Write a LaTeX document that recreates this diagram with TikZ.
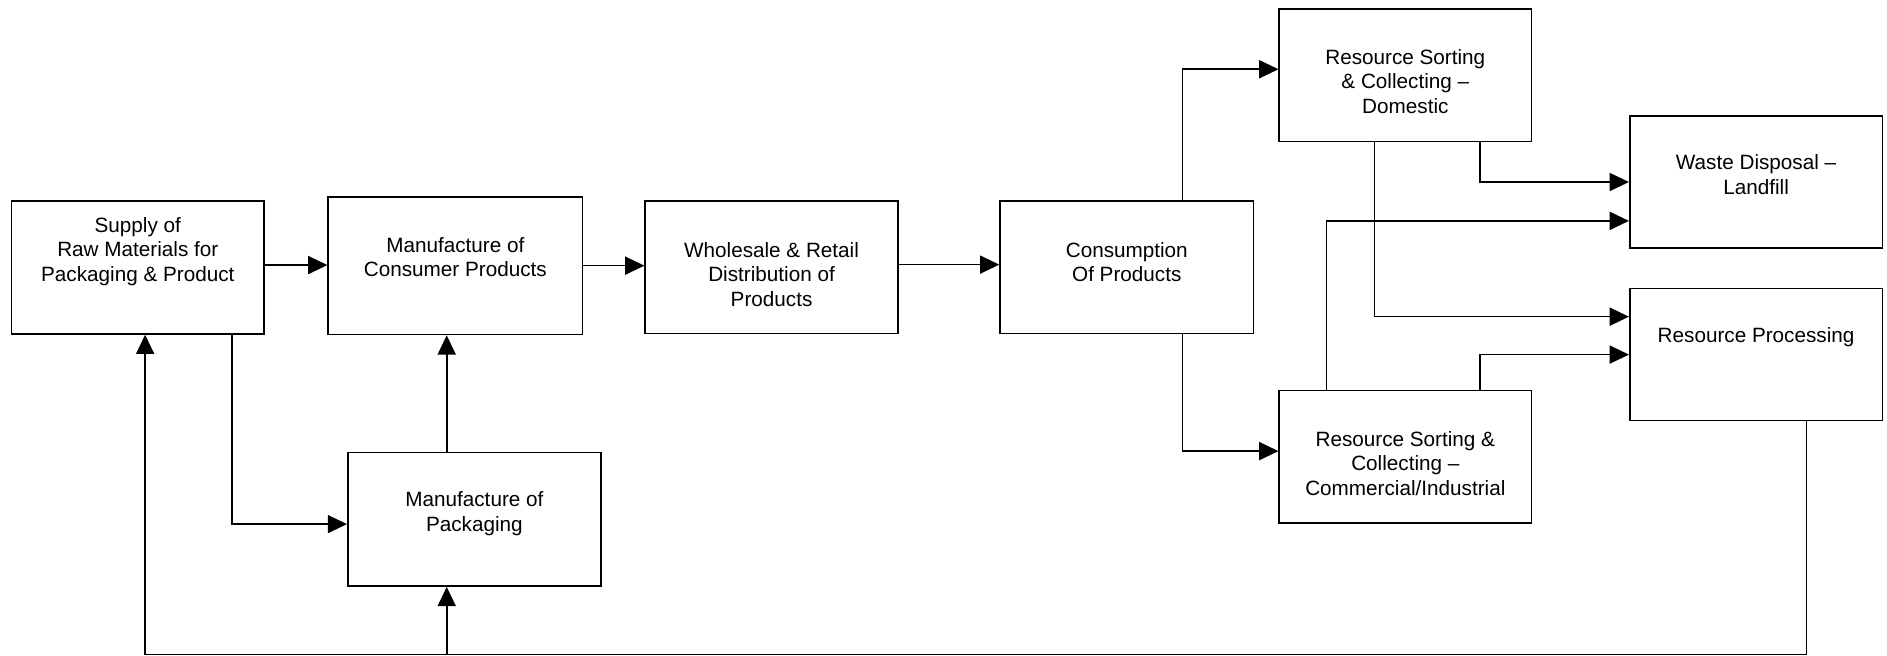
\documentclass[tikz,border=0pt]{standalone}
\usepackage{fontspec}
\setmainfont{Liberation Sans}
\usetikzlibrary{arrows.meta}
\newcommand{\bxtxt}[4]{\parbox[c][#2pt][t]{#1pt}{\centering\vspace*{#3pt}\rule{0pt}{13pt}#4}}
\begin{document}
\begin{tikzpicture}[x=1pt,y=-1pt,
  blk/.style={draw=black, line width=1.3pt, inner sep=0pt, font=\fontsize{17.2}{20.3}\selectfont},
  arr/.style={line width=1.3pt, -{Triangle[length=16pt,width=15pt]}},
  ln/.style={line width=1.3pt}]
\useasboundingbox (0,0) rectangle (1568,545);

\node[blk] (supply) at (114.5,222.25) {\bxtxt{210}{110.5}{13}{Supply of\\Raw Materials for\\Packaging \& Product}};
\node[blk] (cp) at (378.35,220.75) {\bxtxt{211.3}{114.5}{33}{Manufacture of\\Consumer Products}};
\node[blk] (whole) at (641.1,221.9) {\bxtxt{210}{110.2}{34}{Wholesale \& Retail\\Distribution of\\Products}};
\node[blk] (cons) at (936.3,222) {\bxtxt{210.6}{110}{34}{Consumption\\Of Products}};
\node[blk] (mpack) at (394.2,431.5) {\bxtxt{210.4}{111}{32}{Manufacture of\\Packaging}};
\node[blk] (rsdom) at (1167.75,62.55) {\bxtxt{209.5}{110}{33}{Resource Sorting\\\& Collecting –\\Domestic}};
\node[blk] (waste) at (1459.2,151.25) {\bxtxt{210}{110}{32}{Waste Disposal –\\Landfill}};
\node[blk] (rproc) at (1459.2,294.65) {\bxtxt{210}{109.5}{32}{Resource Processing}};
\node[blk] (rscom) at (1167.75,379.35) {\bxtxt{209.5}{110}{33.5}{Resource Sorting \&\\Collecting –\\Commercial/Industrial}};

\coordinate (fb) at (120.6,544);

% main chain
\draw[arr] ([yshift=2pt]supply.east) -- ([yshift=2pt]supply.east -| cp.west);
\draw[arr] (cp.east) -- (cp.east -| whole.west);
\draw[arr] ([yshift=2pt]whole.east) -- ([yshift=2pt]whole.east -| cons.west);

% packaging
\draw[arr] ([xshift=78.5pt]supply.south) |- ([yshift=-4pt]mpack.west);
\draw[arr] ([xshift=-23pt]mpack.north) -- ([xshift=-23pt]mpack.north |- cp.south);

% feedback loop
\draw[arr] ([xshift=42pt]rproc.south) |- (fb) -- (fb |- supply.south);
\draw[arr] ([xshift=-23pt]mpack.south |- fb) -- ([xshift=-23pt]mpack.south);

% consumption split
\draw[arr] ([xshift=46.2pt]cons.north) |- ([yshift=5pt]rsdom.west);
\draw[arr] ([xshift=46.2pt]cons.south) |- ([yshift=4.5pt]rscom.west);

% sorting to disposal / processing
\draw[arr] ([xshift=62pt]rsdom.south) |- (waste.west);
\draw[arr] ([xshift=-25.5pt]rsdom.south) |- ([yshift=31.5pt]rproc.west);
\draw[arr] ([xshift=-65.5pt]rscom.north) |- ([yshift=-32.3pt]waste.west);
\draw[arr] ([xshift=62pt]rscom.north) |- (rproc.west);
\end{tikzpicture}
\end{document}
